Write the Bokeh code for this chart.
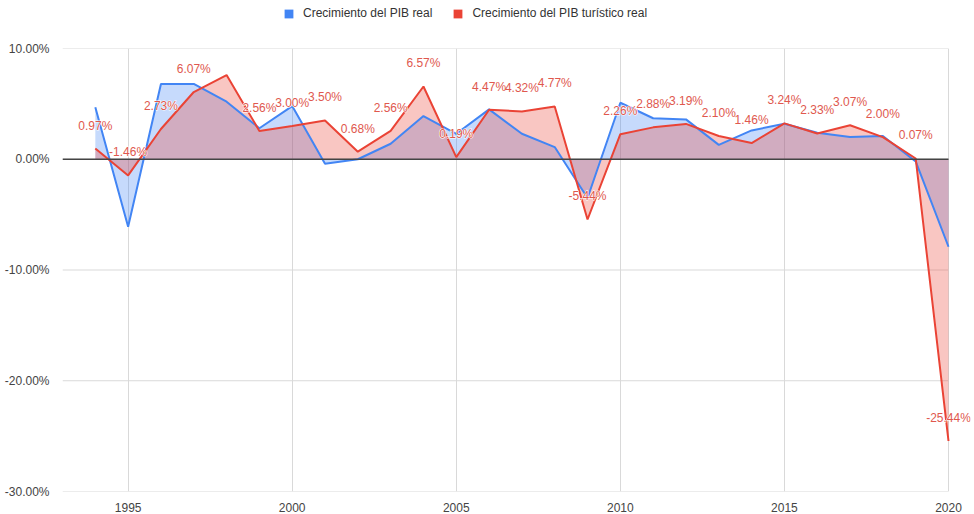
from bokeh.plotting import figure
from bokeh.models import (ColumnDataSource, Legend, LegendItem, LabelSet,
                          PrintfTickFormatter, FixedTicker, Range1d)
from bokeh.layouts import column
from bokeh.core.properties import value
from bokeh.embed import file_html
from bokeh.resources import INLINE

years = list(range(1994, 2021))
pib_real = [4.7, -6.1, 6.8, 6.8, 5.2, 2.8, 4.8, -0.4, 0.0, 1.4, 3.9, 2.3, 4.5, 2.3,
            1.1, -3.5, 5.1, 3.7, 3.6, 1.3, 2.6, 3.2, 2.4, 2.0, 2.1, -0.2, -7.9]
pib_turistico = [0.97, -1.46, 2.73, 6.07, 7.6, 2.56, 3.00, 3.50, 0.68, 2.56, 6.57, 0.19,
                 4.47, 4.32, 4.77, -5.44, 2.26, 2.88, 3.19, 2.10, 1.46, 3.24, 2.33, 3.07,
                 2.00, 0.07, -25.44]
label_years = [y for y in years if y != 1998]
label_values = [v for y, v in zip(years, pib_turistico) if y != 1998]
label_texts = ["%.2f%%" % v for v in label_values]

y_ticks = [-30, -20, -10, 0, 10]
x_ticks = [1995, 2000, 2005, 2010, 2015, 2020]
x_start, x_last = 1993.0, 2020

BLUE = "#4285F4"
RED = "#EA4335"
FONT = "Liberation Sans"

src = ColumnDataSource(dict(x=years, a=pib_real, b=pib_turistico, zero=[0] * len(years)))
lab = ColumnDataSource(dict(x=label_years, y=label_values, t=label_texts))
grid_src = ColumnDataSource(dict(x0=[x_start] * len(y_ticks), x1=[x_last] * len(y_ticks),
                                 y=y_ticks))

W = 972
LH = 30
H = 484
BL, BR, BT, BB = 62, 2, 18, 23
px_per_year = (948 - 62) / (x_last - x_start)
x_end = x_last + (W - BR - 948) / px_per_year

# ---- legend strip ----
lg = figure(width=W, height=LH, output_backend="svg", toolbar_location=None,
            x_range=Range1d(0, 1), y_range=Range1d(0, 1),
            x_axis_location=None, y_axis_location=None,
            min_border_left=0, min_border_right=0, min_border_top=0, min_border_bottom=0)
lg.grid.visible = False
lg.outline_line_color = None
s1 = lg.quad(left=[5], right=[6], bottom=[5], top=[6], fill_color=BLUE, line_color=None)
s2 = lg.quad(left=[5], right=[6], bottom=[5], top=[6], fill_color=RED, line_color=None)
legend = Legend(items=[LegendItem(label="Crecimiento del PIB real", renderers=[s1]),
                       LegendItem(label="Crecimiento del PIB turístico real", renderers=[s2])],
                orientation="horizontal", location=(221, 10),
                label_text_font=FONT, label_text_font_size="12px",
                label_text_color="#333333", border_line_color=None,
                background_fill_alpha=0, glyph_width=11, glyph_height=11,
                spacing=20, padding=0, margin=0, label_standoff=9, label_height=11)
lg.add_layout(legend)

# ---- main chart ----
p = figure(width=W, height=H, output_backend="svg", toolbar_location=None,
           x_range=Range1d(x_start, x_end), y_range=Range1d(-30, 10),
           min_border_left=BL, min_border_right=BR, min_border_top=BT, min_border_bottom=BB)
p.outline_line_color = None
p.background_fill_color = "white"

# horizontal grid lines ending at the last year
p.segment(x0="x0", x1="x1", y0="y", y1="y", source=grid_src, line_color="#d9d9d9", line_width=1)

p.varea(x="x", y1="zero", y2="a", source=src, fill_color=BLUE, fill_alpha=0.3)
p.varea(x="x", y1="zero", y2="b", source=src, fill_color=RED, fill_alpha=0.3)
p.line(x="x", y="a", source=src, line_color=BLUE, line_width=2)
p.line(x="x", y="b", source=src, line_color=RED, line_width=2)

# zero baseline
p.segment(x0=[x_start], x1=[x_last], y0=[0], y1=[0], line_color="#444444", line_width=1.5)

label_kw = dict(x="x", y="y", text="t", source=lab, text_align="center",
                text_baseline="middle", y_offset=23,
                text_font=value(FONT), text_font_size=value("12px"))
# white halo underneath, red text on top
p.add_layout(LabelSet(text_color="white", text_outline_color="white", **label_kw))
p.add_layout(LabelSet(text_color="#E0584E", **label_kw))

p.xaxis.ticker = FixedTicker(ticks=x_ticks)
p.yaxis.ticker = FixedTicker(ticks=y_ticks)
p.yaxis.formatter = PrintfTickFormatter(format="%.2f%%")
for ax in (p.xaxis[0], p.yaxis[0]):
    ax.axis_line_color = None
    ax.major_tick_line_color = None
    ax.minor_tick_line_color = None
    ax.major_label_text_font = FONT
    ax.major_label_text_font_size = "12px"
    ax.major_label_text_color = "#444444"
p.xaxis.major_label_standoff = 5
p.yaxis.major_label_standoff = 7
p.xgrid.ticker = FixedTicker(ticks=x_ticks)
p.xgrid.grid_line_color = "#d9d9d9"
p.ygrid.visible = False

layout = column(lg, p, spacing=0)
open("out.html", "w").write(file_html(layout, INLINE))
